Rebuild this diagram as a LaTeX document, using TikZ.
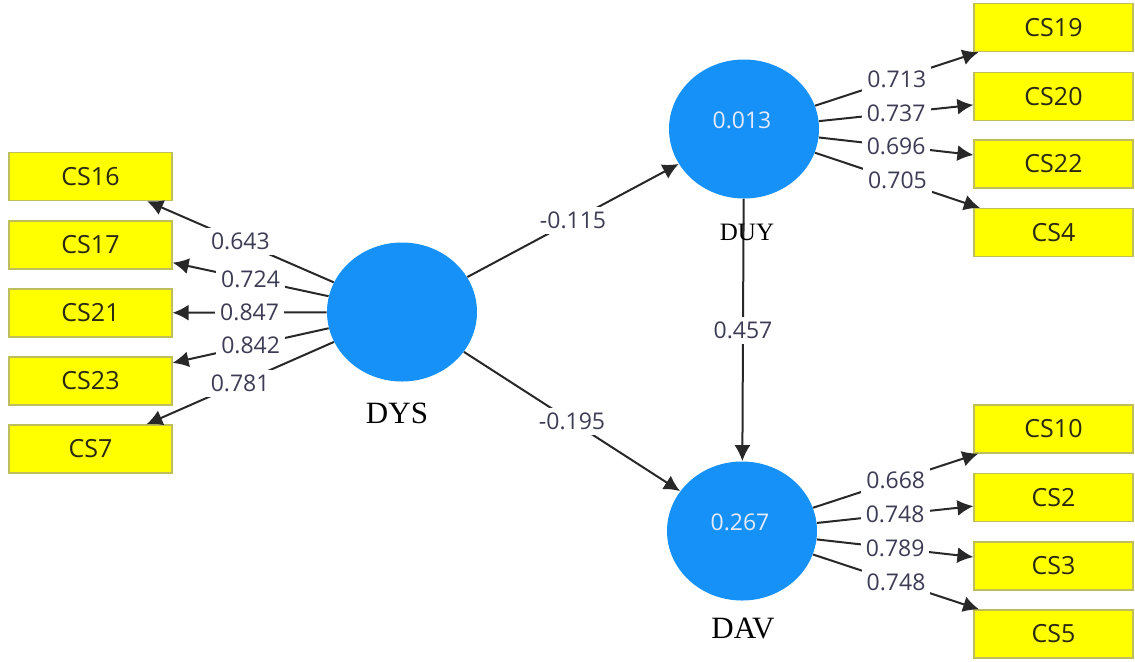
\documentclass[tikz,border=0pt]{standalone}
\usepackage{fontspec}
\usetikzlibrary{shapes.geometric,arrows.meta}
\newfontfamily\osans{Open Sans}
\newfontfamily\tser{Liberation Serif}
\newcommand{\numfont}{\osans\fontsize{11.5}{13}\selectfont}
\newcommand{\boxfont}{\osans\fontsize{12.5}{14}\selectfont}
\definecolor{lvblue}{RGB}{22,145,248}
\definecolor{indyellow}{RGB}{255,255,0}
\definecolor{indedge}{RGB}{190,190,90}
\definecolor{indtext}{RGB}{40,40,20}
\definecolor{linkgrey}{RGB}{40,40,40}
\definecolor{numcol}{RGB}{60,60,85}
\definecolor{rsqcol}{RGB}{228,234,255}
\tikzset{
  lv/.style={ellipse, fill=lvblue, minimum width=75pt, minimum height=69.5pt, inner sep=0pt},
  ind/.style={rectangle, fill=indyellow, draw=indedge, line width=0.6pt,
    minimum height=24pt, inner sep=0pt, font=\boxfont, text=indtext},
  indL/.style={ind, minimum width=81.5pt},
  indR/.style={ind, minimum width=79.5pt},
  link/.style={draw=linkgrey, line width=1pt, -{Latex[length=8pt,width=8pt]}},
  wt/.style={fill=white, inner sep=2.5pt, font=\numfont, text=numcol},
  rsq/.style={font=\numfont, text=rsqcol},
  lvname/.style={font=\tser\fontsize{15.5}{17}\selectfont},
  lvsmall/.style={font=\tser\fontsize{12.5}{14}\selectfont}
}
\begin{document}
\begin{tikzpicture}[x={(0.5pt,0)}, y={(0,-0.5pt)}]
\useasboundingbox (0,0) rectangle (1135,661);

% latent variables
\node[lv] (DYS) at (402,312) {};
\node[lv] (DUY) at (744,129) {};
\node[lv] (DAV) at (742,531) {};
\node[rsq] (DUYv) at (742,120) {0.013};
\node[rsq] (DAVv) at (740,522) {0.267};

% indicators of DYS
\node[indL] (CS16) at (90.5,176.5) {CS16};
\node[indL] (CS17) at (90.5,245) {CS17};
\node[indL] (CS21) at (90.5,313) {CS21};
\node[indL] (CS23) at (90.5,381) {CS23};
\node[indL] (CS7)  at (90.5,449) {CS7};

% indicators of DUY
\node[indR] (CS19) at (1053.5,27.5) {CS19};
\node[indR] (CS20) at (1053.5,96.5) {CS20};
\node[indR] (CS22) at (1053.5,164) {CS22};
\node[indR] (CS4)  at (1053.5,232.5) {CS4};

% indicators of DAV
\node[indR] (CS10) at (1053.5,429) {CS10};
\node[indR] (CS2)  at (1053.5,497.5) {CS2};
\node[indR] (CS3)  at (1053.5,566) {CS3};
\node[indR] (CS5)  at (1053.5,634) {CS5};

% outer loadings
\draw[link] (DYS) -- node[wt] {0.643} (CS16);
\draw[link] (DYS) -- node[wt] {0.724} (CS17);
\draw[link] (DYS) -- node[wt] {0.847} (CS21);
\draw[link] (DYS) -- node[wt] {0.842} (CS23);
\draw[link] (DYS) -- node[wt] {0.781} (CS7);

\draw[link] (DUY) -- node[wt] {0.713} (CS19);
\draw[link] (DUY) -- node[wt] {0.737} (CS20);
\draw[link] (DUY) -- node[wt] {0.696} (CS22);
\draw[link] (DUY) -- node[wt] {0.705} (CS4);

\draw[link] (DAV) -- node[wt] {0.668} (CS10);
\draw[link] (DAV) -- node[wt] {0.748} (CS2);
\draw[link] (DAV) -- node[wt] {0.789} (CS3);
\draw[link] (DAV) -- node[wt] {0.748} (CS5);

% path coefficients
\draw[link] (DYS) -- node[wt] {-0.115} (DUY);
\draw[link] (DYS) -- node[wt] {-0.195} (DAV);
\draw[link] (DUY) -- node[wt] {0.457} (DAV);

% construct names
\node[lvname] (DYSn) at (397,413) {DYS};
\node[lvsmall] (DUYn) at (747,232) {DUY};
\node[lvname] (DAVn) at (743,628) {DAV};
\end{tikzpicture}
\end{document}
